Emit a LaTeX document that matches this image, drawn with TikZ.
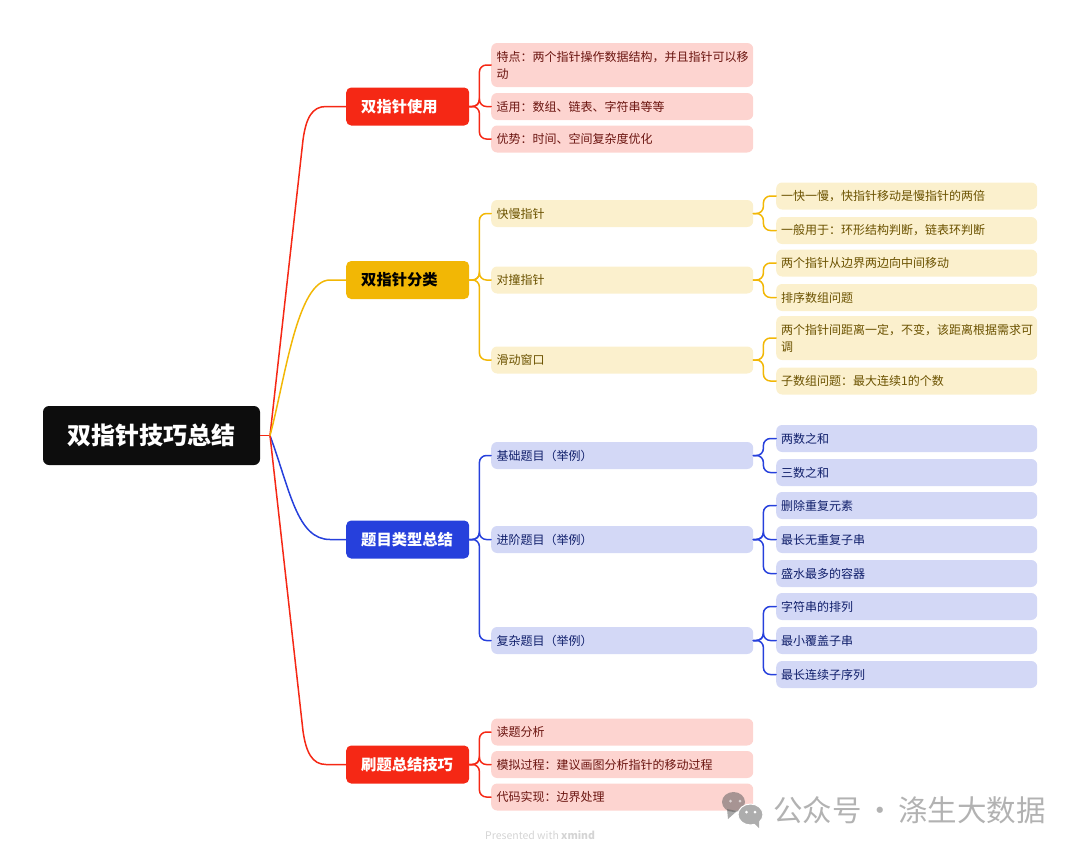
\documentclass[tikz,border=0pt]{standalone}
\usepackage{fontspec}
\setmainfont{Noto Sans CJK SC}
\definecolor{cred}{HTML}{F52815}
\definecolor{cyel}{HTML}{F2B705}
\definecolor{cblu}{HTML}{2640DC}
\definecolor{bred}{HTML}{FDD4D0}
\definecolor{byel}{HTML}{FBF0CD}
\definecolor{bblu}{HTML}{D3D8F6}
\definecolor{tred}{HTML}{6B1510}
\definecolor{tyel}{HTML}{6B5200}
\definecolor{tblu}{HTML}{101F6B}
\definecolor{croot}{HTML}{0D0D0D}
\definecolor{wmgray}{HTML}{ADADAD}
\tikzset{
  rootbox/.style={fill=croot,text=white,rounded corners=6pt,minimum width=217pt,minimum height=59pt,inner sep=0pt,font=\fontsize{24}{28}\selectfont\bfseries},
  mainbox/.style={rounded corners=5pt,text width=93pt,inner xsep=15pt,inner ysep=0pt,minimum height=38pt,align=left,anchor=west,font=\fontsize{15.3}{18}\selectfont\bfseries},
  subbox/.style={rounded corners=6pt,text width=#1,inner xsep=5.5pt,inner ysep=0pt,minimum height=27pt,align=left,anchor=west,font=\fontsize{12}{17}\selectfont},
  midbox/.style={subbox=251pt},
  leafbox/.style={subbox=251pt,inner xsep=5pt},
  rb/.style={fill=bred,text=tred},
  yb/.style={fill=byel,text=tyel},
  bb/.style={fill=bblu,text=tblu},
  conn/.style={line width=1.5pt,line cap=round},
  brk/.style={conn,rounded corners=7pt},
}
\newcommand{\brk}[3]{\draw[brk,#1] (#2.east) -- ++(10,0) |- (#3.west);}
\begin{document}
\begin{tikzpicture}[x=1pt,y=-1pt]
\useasboundingbox (0,0) rectangle (1080,854);
\node[rootbox] (root) at (151.5,435.5) {双指针技巧总结};
\coordinate (hub) at (270,435.5);
\node[mainbox,fill=cred,text=white] (m1) at (346,106.5) {双指针使用};
\node[mainbox,fill=cyel,text=black] (m2) at (346,280) {双指针分类};
\node[mainbox,fill=cblu,text=white] (m3) at (346,539.5) {题目类型总结};
\node[mainbox,fill=cred,text=white] (m4) at (346,764.5) {刷题总结技巧};
% level 2
\node[midbox,rb,minimum height=44pt] (a1) at (491,65) {特点：两个指针操作数据结构，并且指针可以移\\动};
\node[midbox,rb] (a2) at (491,106.5) {适用：数组、链表、字符串等等};
\node[midbox,rb] (a3) at (491,139) {优势：时间、空间复杂度优化};
\node[midbox,yb] (b1) at (491,213.5) {快慢指针};
\node[midbox,yb] (b2) at (491,280) {对撞指针};
\node[midbox,yb] (b3) at (491,360) {滑动窗口};
\node[midbox,bb] (c1) at (491,455.5) {基础题目（举例）};
\node[midbox,bb] (c2) at (491,539.5) {进阶题目（举例）};
\node[midbox,bb] (c3) at (491,640.5) {复杂题目（举例）};
\node[midbox,rb] (d1) at (491,732) {读题分析};
\node[midbox,rb] (d2) at (491,764.5) {模拟过程：建议画图分析指针的移动过程};
\node[midbox,rb] (d3) at (491,797) {代码实现：边界处理};
% level 3
\node[leafbox,yb] (e1) at (776,196) {一快一慢，快指针移动是慢指针的两倍};
\node[leafbox,yb] (e2) at (776,230.5) {一般用于：环形结构判断，链表环判断};
\node[leafbox,yb] (e3) at (776,263) {两个指针从边界两边向中间移动};
\node[leafbox,yb] (e4) at (776,297.5) {排序数组问题};
\node[leafbox,yb,minimum height=44pt] (e5) at (776,338) {两个指针间距离一定，不变，该距离根据需求可\\调};
\node[leafbox,yb] (e6) at (776,381) {子数组问题：最大连续1的个数};
\node[leafbox,bb] (f1) at (776,438.5) {两数之和};
\node[leafbox,bb] (f2) at (776,472.5) {三数之和};
\node[leafbox,bb] (f3) at (776,505.5) {删除重复元素};
\node[leafbox,bb] (f4) at (776,539.5) {最长无重复子串};
\node[leafbox,bb] (f5) at (776,573.5) {盛水最多的容器};
\node[leafbox,bb] (f6) at (776,606.5) {字符串的排列};
\node[leafbox,bb] (f7) at (776,640.5) {最小覆盖子串};
\node[leafbox,bb] (f8) at (776,674.5) {最长连续子序列};
% trunk connectors
\draw[line width=1pt,cred] (root.east) -- (hub);
\draw[conn,cred] (hub) -- (303,140) .. controls (306,118) and (312,106.5) .. (326,106.5) -- (m1.west);
\draw[conn,cblu] (hub) .. controls (290,490) and (297,539.5) .. (330,539.5) -- (m3.west);
\draw[conn,cred] (hub) -- (303,731) .. controls (306,752) and (312,764.5) .. (326,764.5) -- (m4.west);
\draw[conn,cyel] (hub) .. controls (285,380) and (297,280) .. (330,280) -- (m2.west);
% brackets
\brk{cred}{m1}{a1}\brk{cred}{m1}{a2}\brk{cred}{m1}{a3}
\brk{cyel}{m2}{b1}\brk{cyel}{m2}{b2}\brk{cyel}{m2}{b3}
\brk{cblu}{m3}{c1}\brk{cblu}{m3}{c2}\brk{cblu}{m3}{c3}
\brk{cred}{m4}{d1}\brk{cred}{m4}{d2}\brk{cred}{m4}{d3}
\brk{cyel}{b1}{e1}\brk{cyel}{b1}{e2}
\brk{cyel}{b2}{e3}\brk{cyel}{b2}{e4}
\brk{cyel}{b3}{e5}\brk{cyel}{b3}{e6}
\brk{cblu}{c1}{f1}\brk{cblu}{c1}{f2}
\brk{cblu}{c2}{f3}\brk{cblu}{c2}{f4}\brk{cblu}{c2}{f5}
\brk{cblu}{c3}{f6}\brk{cblu}{c3}{f7}\brk{cblu}{c3}{f8}
% footer and watermark
\node[text=black!17,font=\fontsize{10.5}{12}\selectfont,inner sep=0pt,anchor=west] (pw) at (485,835) {Presented with \textbf{xmind}};
\fill[black!62,fill opacity=.55] (733.5,802) ellipse (11.5pt and 10pt);
\fill[black!62,fill opacity=.55] (727,809) -- (728,819) -- (737,811) -- cycle;
\fill[white,fill opacity=.6] (730.5,801) circle (1.5pt) (740,801) circle (1.5pt);
\fill[wmgray,draw=white,line width=1pt] (750.5,814.5) ellipse (12.5pt and 10.5pt);
\fill[wmgray] (753,822) -- (759,828) -- (759,820) -- cycle;
\fill[white] (746.5,812) circle (1.5pt) (755,812) circle (1.5pt);
\node[text=black!30,font=\fontsize{29.5}{32}\selectfont,inner sep=0pt,anchor=west] (wm) at (773,810) {公众号\hspace{-3pt} · \hspace{-3pt}涤生大数据};
\end{tikzpicture}
\end{document}
